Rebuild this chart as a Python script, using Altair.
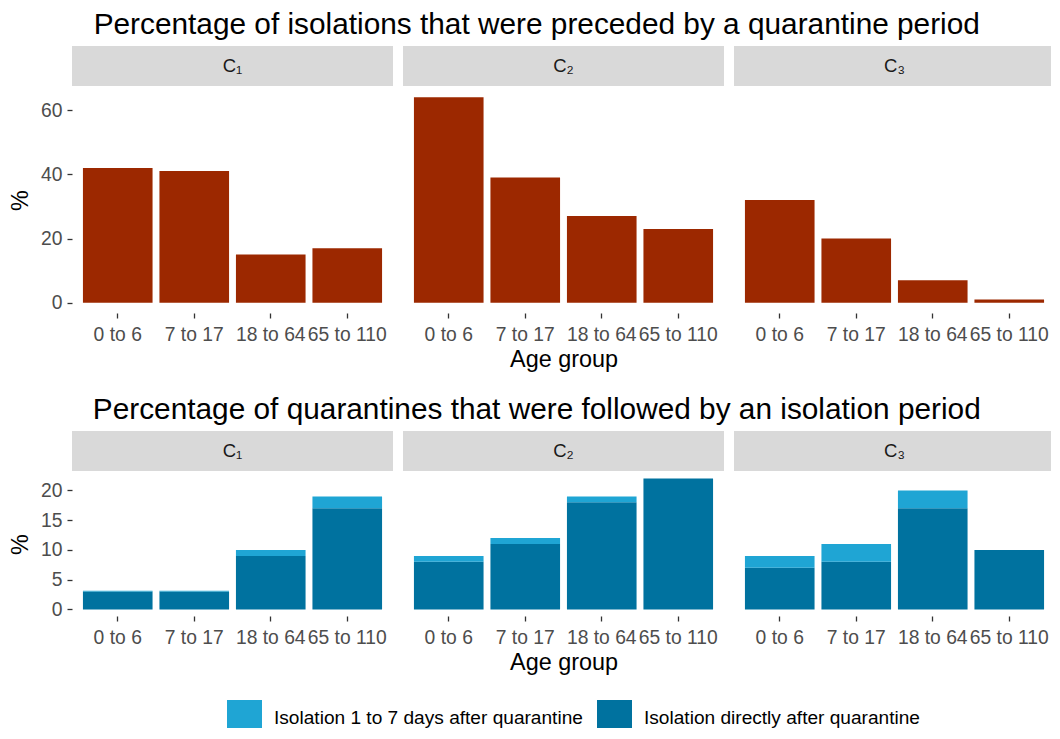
import altair as alt
import pandas as pd

FONT = "Liberation Sans"

ages = ["0 to 6", "7 to 17", "18 to 64", "65 to 110"]
panels = ["C₁", "C₂", "C₃"]

# Percentage of isolations preceded by quarantine
preceded_c1 = [42, 41, 15, 17]
preceded_c2 = [64, 39, 27, 23]
preceded_c3 = [32, 20, 7, 1]

# Percentage of quarantines followed by isolation (stacked)
direct_c1 = [3, 3, 9, 17]
direct_c2 = [8, 11, 18, 22]
direct_c3 = [7, 8, 17, 10]
after_c1 = [0.15, 0.15, 1, 2]
after_c2 = [1, 1, 1, 0]
after_c3 = [2, 3, 3, 0]

types = ["Isolation 1 to 7 days after quarantine", "Isolation directly after quarantine"]
type_colors = ["#1FA5D4", "#00729F"]
red = "#9C2800"

title_top = "Percentage of isolations that were preceded by a quarantine period"
title_bot = "Percentage of quarantines that were followed by an isolation period"

preceded = [preceded_c1, preceded_c2, preceded_c3]
direct = [direct_c1, direct_c2, direct_c3]
after = [after_c1, after_c2, after_c3]

W = 321
H_TOP = 226
H_BOT = 144
STRIP = 41
TICK_FS = 19.3


def x_enc(idx):
    return alt.X(
        "age:N",
        sort=ages,
        scale=alt.Scale(domain=ages, paddingInner=0.09, paddingOuter=0.143),
        axis=alt.Axis(
            title="Age group" if idx == 1 else None,
            labelAngle=0,
            labelOverlap=False,
            labelFlush=False,
        ),
    )


def strip_layers(label):
    sdf = pd.DataFrame({"panel": [label]})
    rect = alt.Chart(sdf).mark_rect(color="#D9D9D9").encode(
        x=alt.value(0), x2=alt.value(W), y=alt.value(-STRIP), y2=alt.value(-1)
    )
    txt = alt.Chart(sdf).mark_text(
        font=FONT, fontSize=18.5, color="#1A1A1A", baseline="middle", align="center"
    ).encode(text="panel:N", x=alt.value(W / 2), y=alt.value(-STRIP / 2 - 1))
    return rect, txt


def top_panel(idx):
    df = pd.DataFrame({"age": ages, "value": preceded[idx]})
    bars = alt.Chart(df).mark_bar(color=red).encode(
        x=x_enc(idx),
        y=alt.Y(
            "value:Q",
            scale=alt.Scale(domain=[-3.2, 67.2], nice=False, zero=False),
            axis=alt.Axis(title="%", values=[0, 20, 40, 60]) if idx == 0 else None,
        ),
    )
    rect, txt = strip_layers(panels[idx])
    return alt.layer(rect, txt, bars).properties(width=W, height=H_TOP)


def bot_panel(idx):
    rows = []
    for a, d, f in zip(ages, direct[idx], after[idx]):
        rows.append({"age": a, "type": types[1], "value": d, "ord": 0})
        rows.append({"age": a, "type": types[0], "value": f, "ord": 1})
    df = pd.DataFrame(rows)
    bars = alt.Chart(df).mark_bar().encode(
        x=x_enc(idx),
        y=alt.Y(
            "value:Q",
            stack="zero",
            scale=alt.Scale(domain=[-1.1, 23.1], nice=False, zero=False),
            axis=alt.Axis(title="%", values=[0, 5, 10, 15, 20]) if idx == 0 else None,
        ),
        color=alt.Color(
            "type:N",
            scale=alt.Scale(domain=types, range=type_colors),
            legend=alt.Legend(
                title=None,
                orient="none",
                legendX=155,
                legendY=613,
                padding=0,
                direction="horizontal",
                symbolType="square",
                symbolSize=1225,
                symbolStrokeWidth=0,
                symbolOpacity=1,
                labelFont=FONT,
                labelFontSize=19.1,
                labelColor="#000000",
                labelLimit=0,
                labelOffset=12,
                columnPadding=14,
            )
            if idx == 0
            else None,
        ),
        order=alt.Order("ord:Q", sort="ascending"),
    )
    rect, txt = strip_layers(panels[idx])
    return alt.layer(rect, txt, bars).properties(width=W, height=H_BOT)


def block_title(text):
    return alt.TitleParams(text, fontSize=29.8, font=FONT, fontWeight="normal",
                           color="#000000", anchor="middle", offset=6, dx=5)


top = alt.hconcat(*[top_panel(i) for i in range(3)], spacing=10).properties(
    title=block_title(title_top)
)
bot = alt.hconcat(*[bot_panel(i) for i in range(3)], spacing=10).properties(
    title=block_title(title_bot)
)

chart = (
    alt.vconcat(top, bot, spacing=24)
    .properties(padding={"left": 0, "top": 2, "right": -4, "bottom": -7})
    .configure_view(stroke=None)
    .configure_axis(
        grid=False,
        domain=False,
        labelFont=FONT,
        labelFontSize=TICK_FS,
        labelColor="#4D4D4D",
        tickColor="#333333",
        tickSize=5,
        tickWidth=1.3,
        titleFont=FONT,
        titleFontSize=23.4,
        titleFontWeight="normal",
        titleColor="#000000",
    )
    .configure_axisX(labelPadding=7, titlePadding=4)
    .configure_axisY(labelPadding=5, titlePadding=8)
)

chart.save("out.html", embed_options={"renderer": "svg", "actions": False})
